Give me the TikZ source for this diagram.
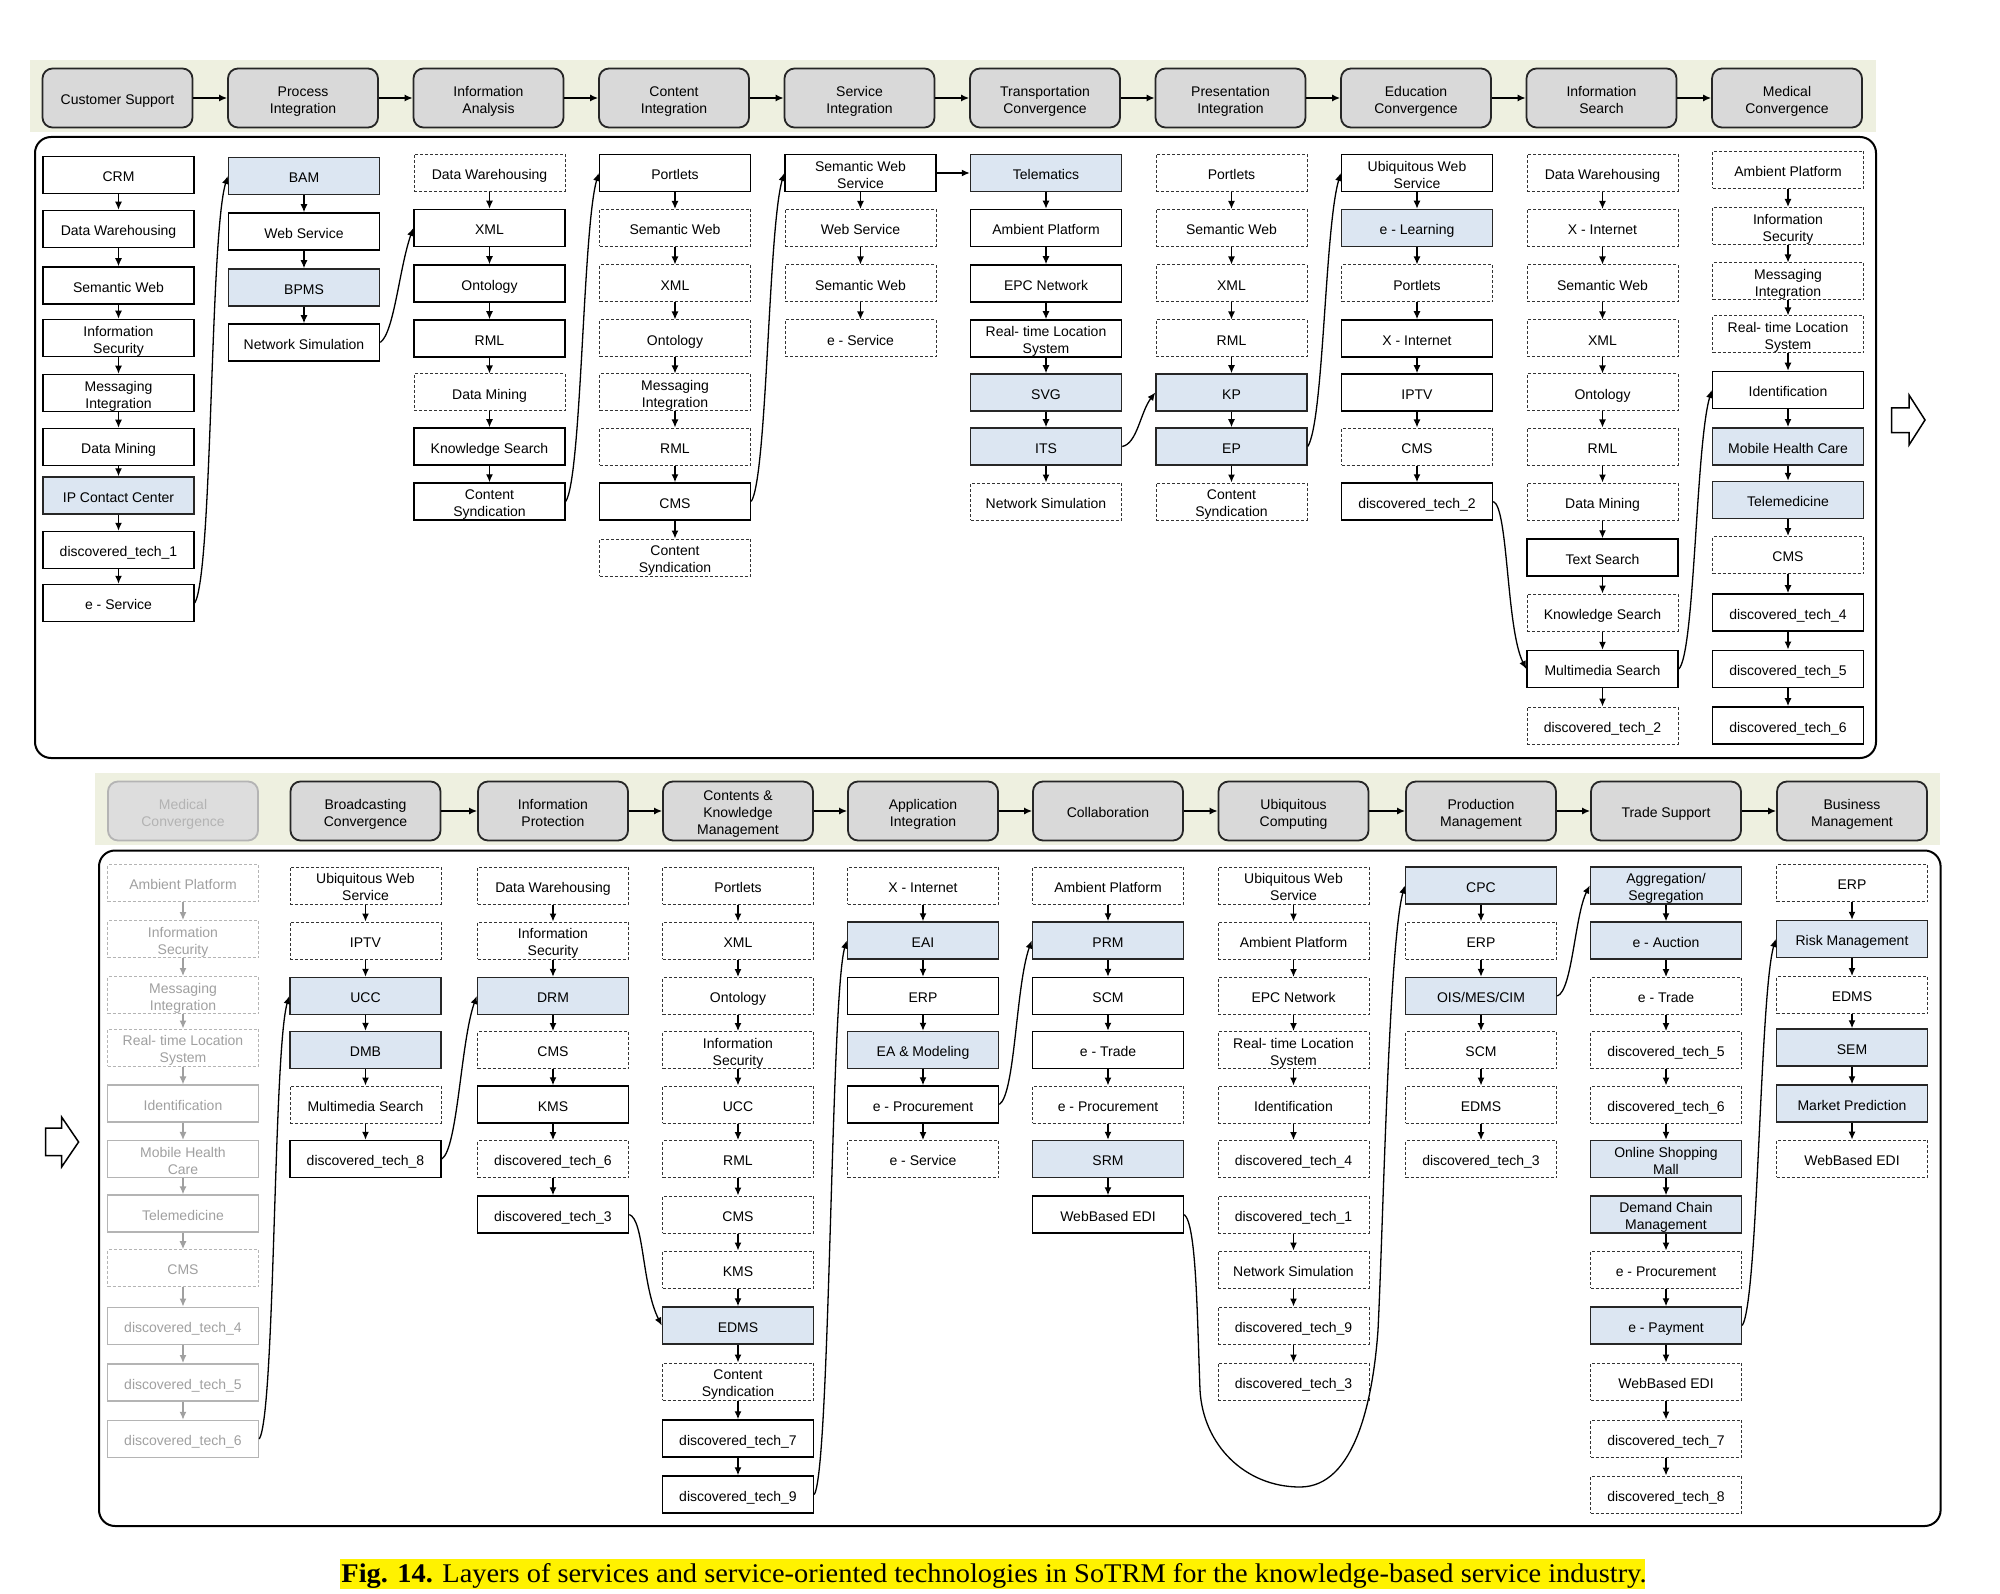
\documentclass[tikz,border=0pt]{standalone}
\usepackage{fontspec}
\setmainfont{Liberation Sans}
\newfontfamily\capfont{Liberation Serif}
\usetikzlibrary{arrows.meta}
\definecolor{bandc}{HTML}{EEF0E0}
\definecolor{hdrc}{HTML}{D9D9D9}
\definecolor{bluec}{HTML}{DCE6F2}
\definecolor{fadeline}{HTML}{B4B4B4}
\definecolor{fadetxt}{HTML}{A0A0A0}
\definecolor{capyellow}{HTML}{FFF200}
\newcommand\upstrut{\rule{0pt}{13.5pt}}
\tikzset{
  every node/.style={font=\fontsize{14}{17}\selectfont, align=center, inner sep=0pt},
  hdr/.style={draw=black!85, line width=1.8pt, fill=hdrc, rounded corners=10pt, minimum width=150pt, minimum height=59pt, text depth=0pt},
  hdrfade/.style={hdr, draw=fadeline, text=fadetxt!80, fill=hdrc!90},
  tb/.style={minimum width=151pt, minimum height=37pt, text depth=0pt},
  sol/.style={tb, draw=black, line width=1.5pt, fill=white},
  blu/.style={tb, draw=black!85, line width=1.5pt, fill=bluec},
  dsh/.style={tb, draw=black!80, line width=1pt, dash pattern=on 3pt off 2pt, fill=white},
  arr/.style={-{Latex[length=8pt,width=7pt]}, line width=1.3pt},
  colarr/.style={arr},
  panel/.style={draw=black, line width=2pt, rounded corners=16pt},
  band/.style={fill=bandc},
  hollow/.style={draw=black, line width=1.5pt, fill=white, line join=miter}
}
\newcommand\techcol[4]{%
  \foreach \st/\tx [count=\r from 0] in {#4} {%
    \pgfmathsetmacro\yy{{#3}[\r]}%
    \node[\st] (#1-\r) at (#2,\yy) {\upstrut\tx};
    \ifnum\r>0
      \pgfmathtruncatemacro\pr{\r-1}%
      \draw[colarr] (#1-\pr) -- (#1-\r);
    \fi
  }}
\begin{document}
\begin{tikzpicture}[x=1pt,y=-1pt]
\useasboundingbox (0,0) rectangle (2000,1594);
\fill[white] (0,0) rectangle (2000,1594);
% ---------------- top panel ----------------
\fill[band] (30,60) rectangle (1876,132);
\draw[panel] (35,137) rectangle (1876,758);
\foreach \t [count=\i from 0] in {Customer Support, Process\\Integration, Information\\Analysis, Content\\Integration, Service\\Integration, Transportation\\Convergence, Presentation\\Integration, Education\\Convergence, Information\\Search, Medical\\Convergence}
  \node[hdr] (H\i) at (117.5+185.5*\i,98) {\upstrut\t};
\foreach \i in {0,...,8} {\pgfmathtruncatemacro\j{\i+1}\draw[arr] (H\i) -- (H\j);}
\def\topgrid{173,228,283.5,338.5,392.5,446.5,501.5,557.5,612.5,669,725.5}
\techcol{T0}{118.5}{175,229,285.5,338,393,447,495.5,550,603}{sol/CRM, sol/Data Warehousing, sol/Semantic Web, sol/Information\\Security, sol/Messaging\\Integration, sol/Data Mining, blu/IP Contact Center, sol/discovered\_tech\_1, sol/e - Service}
\techcol{T1}{304}{176,231.5,287.5,342.5}{blu/BAM, sol/Web Service, blu/BPMS, sol/Network Simulation}
\techcol{T2}{489.5}{\topgrid}{dsh/Data Warehousing, sol/XML, sol/Ontology, sol/RML, dsh/Data Mining, sol/Knowledge Search, sol/Content\\Syndication}
\techcol{T3}{675}{\topgrid}{sol/Portlets, dsh/Semantic Web, dsh/XML, dsh/Ontology, dsh/Messaging\\Integration, dsh/RML, sol/CMS, dsh/Content\\Syndication}
\techcol{T4}{860.5}{\topgrid}{sol/Semantic Web\\Service, dsh/Web Service, dsh/Semantic Web, dsh/e - Service}
\techcol{T5}{1046}{\topgrid}{blu/Telematics, sol/Ambient Platform, sol/EPC Network, sol/Real- time Location\\System, blu/SVG, blu/ITS, dsh/Network Simulation}
\techcol{T6}{1231.5}{\topgrid}{dsh/Portlets, dsh/Semantic Web, dsh/XML, dsh/RML, blu/KP, blu/EP, dsh/Content\\Syndication}
\techcol{T7}{1417}{\topgrid}{sol/Ubiquitous Web\\Service, blu/e - Learning, dsh/Portlets, sol/X - Internet, sol/IPTV, dsh/CMS, sol/discovered\_tech\_2}
\techcol{T8}{1602.5}{\topgrid}{dsh/Data Warehousing, dsh/X - Internet, dsh/Semantic Web, dsh/XML, dsh/Ontology, dsh/RML, dsh/Data Mining, sol/Text Search, dsh/Knowledge Search, sol/Multimedia Search, dsh/discovered\_tech\_2}
\techcol{T9}{1788}{170,226,281.5,334.5,390,446.3,500,555,612.4,668.8,725.4}{dsh/Ambient Platform, dsh/Information\\Security, dsh/Messaging\\Integration, dsh/Real- time Location\\System, sol/Identification, blu/Mobile Health Care, blu/Telemedicine, dsh/CMS, sol/discovered\_tech\_4, sol/discovered\_tech\_5, sol/discovered\_tech\_6}
% top connectors
\draw[arr] (T0-8.east) .. controls +(18,-30) and +(-18,60) .. (T1-0.west);
\draw[arr] (T1-3.east) .. controls +(14,-10) and +(-14,40) .. (T2-1.west);
\draw[arr] (T2-6.east) .. controls +(16,-25) and +(-16,55) .. (T3-0.west);
\draw[arr] (T3-6.east) .. controls +(16,-25) and +(-16,55) .. (T4-0.west);
\draw[arr] (T4-0.east) -- (T5-0.west);
\draw[arr] (T5-5.east) .. controls +(15,-3) and +(-15,20) .. (T6-4.west);
\draw[arr] (T6-5.east) .. controls +(16,-25) and +(-16,55) .. (T7-0.west);
\draw[arr] (T7-6.east) .. controls +(15,5) and +(-20,-40) .. (T8-9.west);
\draw[arr] (T8-9.east) .. controls +(16,-15) and +(-16,55) .. (T9-4.west);
\draw[hollow] (1891.5,408) -- (1909,408) -- (1909,395) -- (1925,420) -- (1909,445) -- (1909,432.5) -- (1891.5,432.5) -- cycle;
% ---------------- bottom panel ----------------
\fill[band] (94.6,773) rectangle (1940,845);
\draw[panel] (99,850.5) rectangle (1940.6,1526);
\def\bx{{183,365.5,553,738,923,1108,1293.5,1481,1666,1852}}
\foreach \t [count=\i from 1] in {Broadcasting\\Convergence, Information\\Protection, Contents \&\\Knowledge\\Management, Application\\Integration, Collaboration, Ubiquitous\\Computing, Production\\Management, Trade Support, Business\\Management}
  {\pgfmathsetmacro\xx{\bx[\i]}\node[hdr] (G\i) at (\xx,811) {\upstrut\t};}
\node[hdrfade] (G0) at (183,811) {\upstrut Medical\\Convergence};
\foreach \i in {1,...,8} {\pgfmathtruncatemacro\j{\i+1}\draw[arr] (G\i) -- (G\j);}
\def\botgrid{885.5,940.5,996,1050,1104.5,1159,1214.5,1269.5,1325.5,1381.5,1438.5,1494.5}
\begin{scope}[sol/.style={tb, draw=fadeline, line width=1.5pt, fill=white, text=fadetxt},
  dsh/.style={tb, draw=fadeline, line width=1pt, dash pattern=on 3pt off 2pt, fill=white, text=fadetxt},
  colarr/.style={arr, fadetxt}]
\techcol{B0}{183}{883,939,995,1047.5,1103.7,1159.2,1213.6,1268.2,1325.8,1382.3,1439}{dsh/Ambient Platform, dsh/Information\\Security, dsh/Messaging\\Integration, dsh/Real- time Location\\System, sol/Identification, sol/Mobile Health\\Care, sol/Telemedicine, dsh/CMS, sol/discovered\_tech\_4, sol/discovered\_tech\_5, sol/discovered\_tech\_6}
\end{scope}
\techcol{B1}{365.5}{\botgrid}{dsh/Ubiquitous Web\\Service, dsh/IPTV, blu/UCC, blu/DMB, dsh/Multimedia Search, sol/discovered\_tech\_8}
\techcol{B2}{553}{\botgrid}{dsh/Data Warehousing, dsh/Information\\Security, blu/DRM, dsh/CMS, sol/KMS, dsh/discovered\_tech\_6, sol/discovered\_tech\_3}
\techcol{B3}{738}{\botgrid}{dsh/Portlets, dsh/XML, dsh/Ontology, dsh/Information\\Security, dsh/UCC, dsh/RML, dsh/CMS, dsh/KMS, blu/EDMS, dsh/Content\\Syndication, sol/discovered\_tech\_7, sol/discovered\_tech\_9}
\techcol{B4}{923}{\botgrid}{dsh/X - Internet, blu/EAI, sol/ERP, blu/EA \& Modeling, sol/e - Procurement, dsh/e - Service}
\techcol{B5}{1108}{\botgrid}{dsh/Ambient Platform, blu/PRM, sol/SCM, sol/e - Trade, dsh/e - Procurement, blu/SRM, sol/WebBased EDI}
\techcol{B6}{1293.5}{\botgrid}{dsh/Ubiquitous Web\\Service, dsh/Ambient Platform, dsh/EPC Network, dsh/Real- time Location\\System, dsh/Identification, dsh/discovered\_tech\_4}
\techcol{B6b}{1293.5}{1214.5,1269.5,1325.5,1381.5}{dsh/discovered\_tech\_1, dsh/Network Simulation, dsh/discovered\_tech\_9, dsh/discovered\_tech\_3}
\techcol{B7}{1481}{\botgrid}{blu/CPC, dsh/ERP, blu/OIS\slash MES\slash CIM, dsh/SCM, dsh/EDMS, dsh/discovered\_tech\_3}
\techcol{B8}{1666}{\botgrid}{blu/Aggregation\slash\\Segregation, blu/e - Auction, dsh/e - Trade, dsh/discovered\_tech\_5, dsh/discovered\_tech\_6, blu/Online Shopping\\Mall, blu/Demand Chain\\Management, dsh/e - Procurement, blu/e - Payment, dsh/WebBased EDI, dsh/discovered\_tech\_7, dsh/discovered\_tech\_8}
\techcol{B9}{1852}{883,939,995,1047.5,1103.5,1158.6}{dsh/ERP, blu/Risk Management, dsh/EDMS, blu/SEM, blu/Market Prediction, dsh/WebBased EDI}
% bottom connectors
\draw[arr] (B0-10.east) .. controls +(16,-25) and +(-16,55) .. (B1-2.west);
\draw[arr] (B1-5.east) .. controls +(16,-10) and +(-16,45) .. (B2-2.west);
\draw[arr] (B2-6.east) .. controls +(15,5) and +(-20,-40) .. (B3-8.west);
\draw[arr] (B3-11.east) .. controls +(16,-25) and +(-16,55) .. (B4-1.west);
\draw[arr] (B4-4.east) .. controls +(16,-10) and +(-16,45) .. (B5-1.west);
\coordinate (lowpt) at (1300,1487);
\draw[arr] (B5-6.east) .. controls +(12,10) and +(-3,-80) .. (1200,1390) .. controls +(3,55) and +(-55,0) .. (lowpt) .. controls +(55,0) and +(-5,70) .. (1378,1330) .. controls +(5,-100) and +(-16,60) .. (B7-0.west);
\draw[arr] (B7-2.east) .. controls +(15,-5) and +(-15,30) .. (B8-0.west);
\draw[arr] (B8-8.east) .. controls +(16,-25) and +(-16,55) .. (B9-1.west);
\draw[hollow] (45.5,1128) -- (61.6,1128) -- (61.6,1117) -- (78.6,1142) -- (61.6,1167) -- (61.6,1155.5) -- (45.5,1155.5) -- cycle;
% ---------------- caption ----------------
\fill[capyellow] (340,1559) rectangle (1645,1589);
\node[anchor=base] (cap) at (994,1582) {\resizebox{1305pt}{19pt}{\capfont\fontsize{20}{24}\selectfont\textbf{Fig. 14.} Layers of services and service-oriented technologies in SoTRM for the knowledge-based service industry.}};
\end{tikzpicture}
\end{document}
